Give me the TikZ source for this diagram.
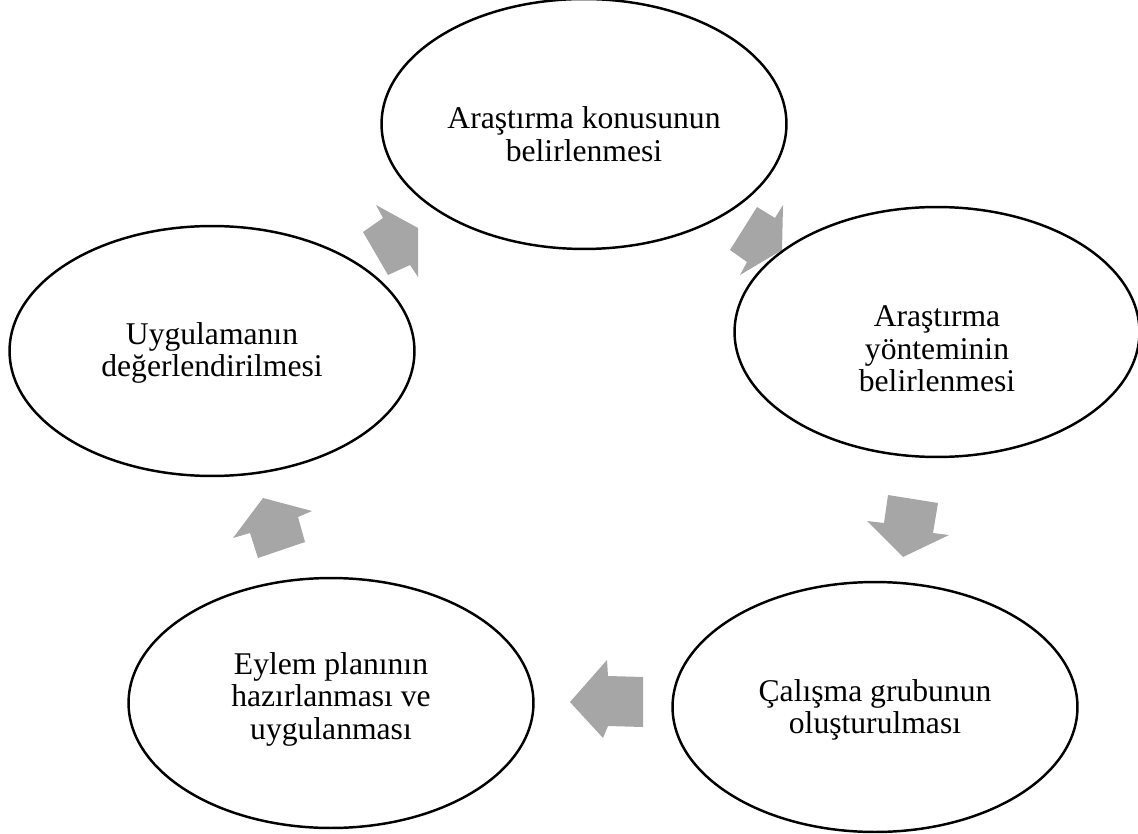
\documentclass[tikz,border=0pt]{standalone}
\usepackage{fontspec}
\setmainfont{Liberation Serif}
\usepackage{tikz}
\usetikzlibrary{shapes.geometric}
\definecolor{arrowgray}{RGB}{166,166,166}
\tikzstyle{stage}=[ellipse, draw=black, line width=1.4pt, fill=white, minimum width=8.1cm, minimum height=5cm, inner sep=0pt]
\tikzstyle{caption}=[align=center, inner sep=0pt, font=\fontsize{18pt}{18.5pt}\selectfont]
\tikzstyle{flow}=[fill=arrowgray]

\begin{document}
\begin{tikzpicture}
        [x=0.02cm,y=-0.02cm]
            \useasboundingbox (0,0) rectangle (1138,834);
            % block arrows between the stages
            \fill [flow] (376,205) -- (383,218) -- (363,232) -- (388,275) -- (410,265) -- (418,277) -- (418,228) -- cycle;
            \fill [flow] (757,207) -- (775,218) -- (783,205) -- (782,250) -- (740,275) -- (747,262) -- (730,250) -- cycle;
            \fill [flow] (888,495) -- (938,503) -- (933,533) -- (949,535) -- (903,557) -- (867,521) -- (884,523) -- cycle;
            \fill [flow] (607,660) -- (608,676) -- (643,677) -- (643,727) -- (608,726) -- (603,738) -- (570,702) -- cycle;
            \fill [flow] (263,498) -- (312,511) -- (298,517) -- (305,542) -- (258,558) -- (250,533) -- (233,538) -- cycle;
            % stages
            \node [stage] (konu) at (584,124) {};
            \node [stage] (yontem) at (937,332) {};
            \node [stage] (grup) at (875,707) {};
            \node [stage] (eylem) at (331,703) {};
            \node [stage] (deger) at (212,351) {};
            % texts
            \node [caption, yshift=-0.2cm] (konu-t) at (konu) {Araştırma konusunun\\belirlenmesi};
            \node [caption, yshift=-0.34cm] (yontem-t) at (yontem) {Araştırma\\yönteminin\\belirlenmesi};
            \node [caption, yshift=-0.06cm] (grup-t) at (grup) {Çalışma grubunun\\oluşturulması};
            \node [caption, yshift=0.08cm] (eylem-t) at (eylem) {Eylem planının\\hazırlanması ve\\uygulanması};
            \node [caption, yshift=-0.04cm] (deger-t) at (deger) {Uygulamanın\\değerlendirilmesi};
        \end{tikzpicture}
\end{document}
